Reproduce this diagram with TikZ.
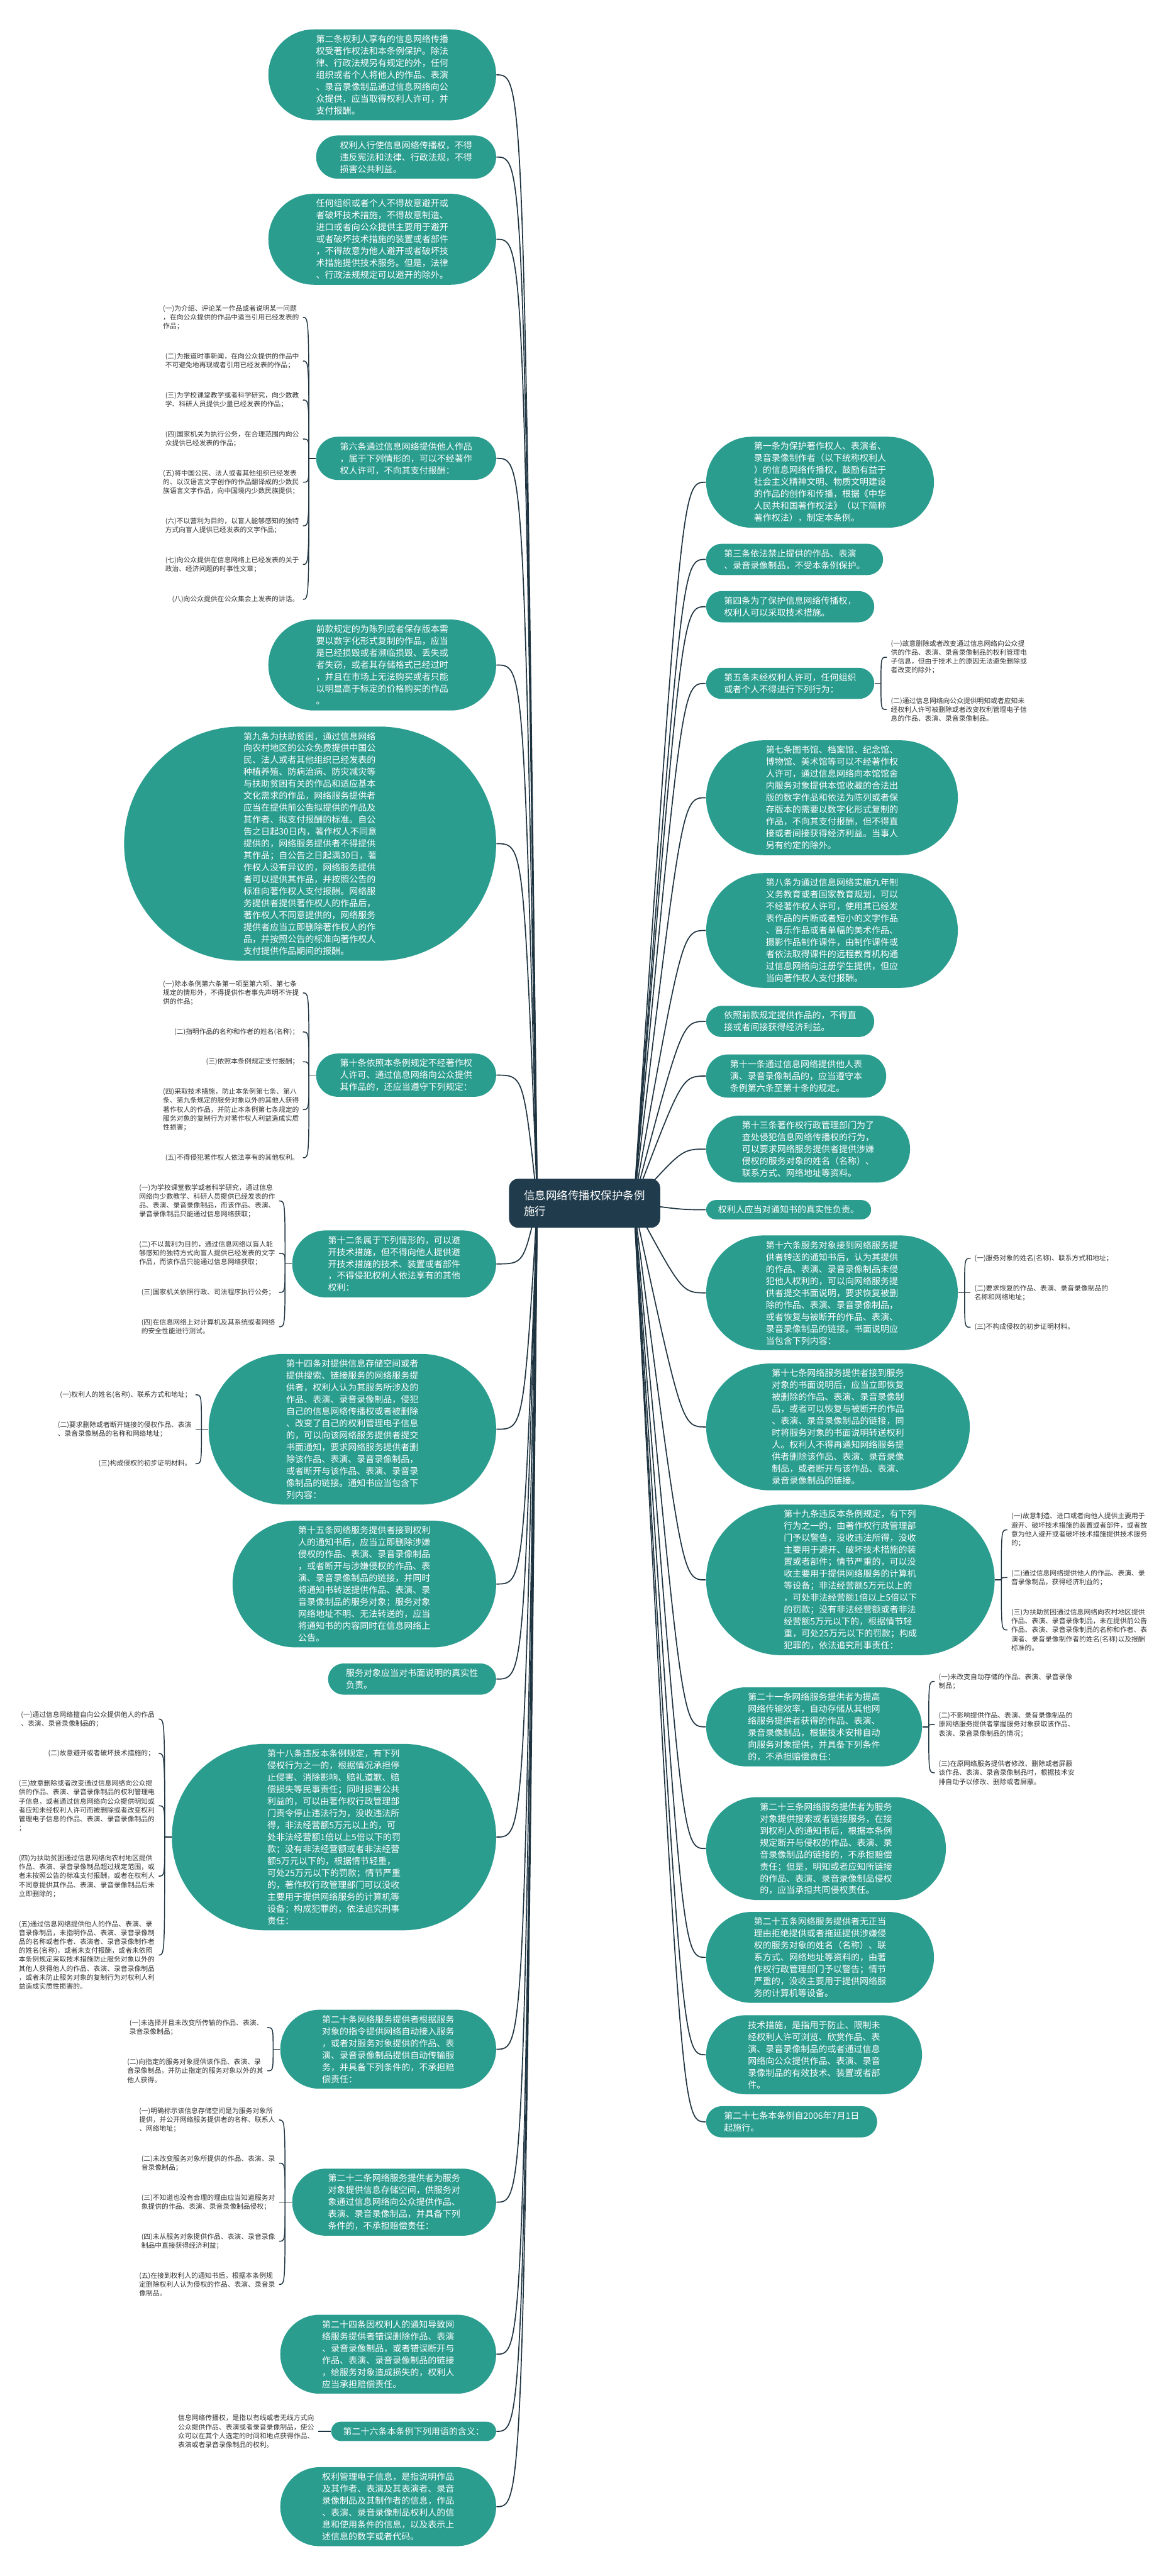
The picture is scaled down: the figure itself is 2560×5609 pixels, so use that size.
\documentclass[tikz,border=0pt]{standalone}
\usepackage{fontspec}
\setmainfont{Noto Sans CJK SC}
\usetikzlibrary{backgrounds}
\definecolor{tealc}{HTML}{2A9D8F}
\definecolor{rootc}{HTML}{203B4C}
\definecolor{linec}{HTML}{1E3340}
\definecolor{leafc}{HTML}{333333}
\tikzset{
  mainnode/.style={fill=tealc, text=white, align=left, inner ysep=0pt, font=\fontsize{5.76pt}{7.8pt}\selectfont},
  leafnode/.style={text=leafc, align=left, inner sep=0pt, font=\fontsize{4.44pt}{5.82pt}\selectfont},
  conn/.style={draw=linec, line width=0.7pt},
  bracel/.style={draw=linec, line width=0.6pt}
}
\newcommand\mL[4]{%
  \pgfmathsetmacro\myH{26*#3+16}%
  \pgfmathsetmacro\myP{0.5*\myH+5}%
  \node[mainnode, anchor=east, minimum height=\myH*0.3pt, inner xsep=\myP*0.3pt, rounded corners=\myH*0.15pt] (#1) at (1081,#2) {#4};}
\newcommand\mR[4]{%
  \pgfmathsetmacro\myH{26*#3+16}%
  \pgfmathsetmacro\myP{0.5*\myH+5}%
  \node[mainnode, anchor=west, minimum height=\myH*0.3pt, inner xsep=\myP*0.3pt, rounded corners=\myH*0.15pt] (#1) at (1537,#2) {#4};}
\newcommand\jL[1]{\coordinate (#1j) at ([xshift=-4.5pt]#1.west); \draw[bracel] (#1.west) -- (#1j);}
\newcommand\jR[1]{\coordinate (#1j) at ([xshift=4.2pt]#1.east); \draw[bracel] (#1.east) -- (#1j);}
\newcommand\lfL[4]{%
  \coordinate (tmp) at (0,#3);
  \node[leafnode, anchor=east, xshift=-6.3pt] (#1) at (#2j |- tmp) {#4};
  \draw[bracel] (#2j) .. controls (#2j |- #1.east) .. ([xshift=2.4pt]#1.east);}
\newcommand\lfR[4]{%
  \coordinate (tmp) at (0,#3);
  \node[leafnode, anchor=west, xshift=6.3pt] (#1) at (#2j |- tmp) {#4};
  \draw[bracel] (#2j) .. controls (#2j |- #1.west) .. ([xshift=-2.4pt]#1.west);}
\begin{document}
\begin{tikzpicture}[x=0.3pt,y=-0.3pt]
\useasboundingbox (0,0) rectangle (2560,5609);

% root
\node[fill=rootc, text=white, align=left, rounded corners=6pt, minimum width=98.7pt, minimum height=32pt, inner sep=0pt, font=\fontsize{7.2pt}{10.2pt}\selectfont] (root) at (1273,2620) {信息网络传播权保护条例\\施行};
\coordinate (sl) at (1170,2620);
\coordinate (sr) at (1380,2620);
\coordinate (cl) at (1140,0);
\coordinate (cr) at (1485,0);

% ---------- left ----------
\mL{L1}{163}{7}{第二条权利人享有的信息网络传播\\权受著作权法和本条例保护。除法\\律、行政法规另有规定的外，任何\\组织或者个人将他人的作品、表演\\、录音录像制品通过信息网络向公\\众提供，应当取得权利人许可，并\\支付报酬。}
\mL{L2}{342}{3}{权利人行使信息网络传播权，不得\\违反宪法和法律、行政法规，不得\\损害公共利益。}
\mL{L3}{521}{7}{任何组织或者个人不得故意避开或\\者破坏技术措施，不得故意制造、\\进口或者向公众提供主要用于避开\\或者破坏技术措施的装置或者部件\\，不得故意为他人避开或者破坏技\\术措施提供技术服务。但是，法律\\、行政法规规定可以避开的除外。}
\mL{L4}{998}{3}{第六条通过信息网络提供他人作品\\，属于下列情形的，可以不经著作\\权人许可，不向其支付报酬：}
\mL{L5}{1448}{7}{前款规定的为陈列或者保存版本需\\要以数字化形式复制的作品，应当\\是已经损毁或者濒临损毁、丢失或\\者失窃，或者其存储格式已经过时\\，并且在市场上无法购买或者只能\\以明显高于标定的价格购买的作品\\。}
\mL{L6}{1837}{19}{第九条为扶助贫困，通过信息网络\\向农村地区的公众免费提供中国公\\民、法人或者其他组织已经发表的\\种植养殖、防病治病、防灾减灾等\\与扶助贫困有关的作品和适应基本\\文化需求的作品，网络服务提供者\\应当在提供前公告拟提供的作品及\\其作者、拟支付报酬的标准。自公\\告之日起30日内，著作权人不同意\\提供的，网络服务提供者不得提供\\其作品；自公告之日起满30日，著\\作权人没有异议的，网络服务提供\\者可以提供其作品，并按照公告的\\标准向著作权人支付报酬。网络服\\务提供者提供著作权人的作品后，\\著作权人不同意提供的，网络服务\\提供者应当立即删除著作权人的作\\品，并按照公告的标准向著作权人\\支付提供作品期间的报酬。}
\mL{L7}{2341}{3}{第十条依照本条例规定不经著作权\\人许可、通过信息网络向公众提供\\其作品的，还应当遵守下列规定：}
\mL{L8}{2752}{5}{第十二条属于下列情形的，可以避\\开技术措施，但不得向他人提供避\\开技术措施的技术、装置或者部件\\，不得侵犯权利人依法享有的其他\\权利：}
\mL{L9}{3112}{12}{第十四条对提供信息存储空间或者\\提供搜索、链接服务的网络服务提\\供者，权利人认为其服务所涉及的\\作品、表演、录音录像制品，侵犯\\自己的信息网络传播权或者被删除\\、改变了自己的权利管理电子信息\\的，可以向该网络服务提供者提交\\书面通知，要求网络服务提供者删\\除该作品、表演、录音录像制品，\\或者断开与该作品、表演、录音录\\像制品的链接。通知书应当包含下\\列内容：}
\mL{L10}{3449}{10}{第十五条网络服务提供者接到权利\\人的通知书后，应当立即删除涉嫌\\侵权的作品、表演、录音录像制品\\，或者断开与涉嫌侵权的作品、表\\演、录音录像制品的链接，并同时\\将通知书转送提供作品、表演、录\\音录像制品的服务对象；服务对象\\网络地址不明、无法转送的，应当\\将通知书的内容同时在信息网络上\\公告。}
\mL{L11}{3656}{2}{服务对象应当对书面说明的真实性\\负责。}
\mL{L12}{4000}{15}{第十八条违反本条例规定，有下列\\侵权行为之一的，根据情况承担停\\止侵害、消除影响、赔礼道歉、赔\\偿损失等民事责任；同时损害公共\\利益的，可以由著作权行政管理部\\门责令停止违法行为，没收违法所\\得，非法经营额5万元以上的，可\\处非法经营额1倍以上5倍以下的罚\\款；没有非法经营额或者非法经营\\额5万元以下的，根据情节轻重，\\可处25万元以下的罚款；情节严重\\的，著作权行政管理部门可以没收\\主要用于提供网络服务的计算机等\\设备；构成犯罪的，依法追究刑事\\责任：}
\mL{L13}{4462}{6}{第二十条网络服务提供者根据服务\\对象的指令提供网络自动接入服务\\，或者对服务对象提供的作品、表\\演、录音录像制品提供自动传输服\\务，并具备下列条件的，不承担赔\\偿责任：}
\mL{L14}{4795}{5}{第二十二条网络服务提供者为服务\\对象提供信息存储空间，供服务对\\象通过信息网络向公众提供作品、\\表演、录音录像制品，并具备下列\\条件的，不承担赔偿责任：}
\mL{L15}{5126}{6}{第二十四条因权利人的通知导致网\\络服务提供者错误删除作品、表演\\、录音录像制品，或者错误断开与\\作品、表演、录音录像制品的链接\\，给服务对象造成损失的，权利人\\应当承担赔偿责任。}
\mL{L16}{5294}{1}{第二十六条本条例下列用语的含义：}
\mL{L17}{5458}{6}{权利管理电子信息，是指说明作品\\及其作者、表演及其表演者、录音\\录像制品及其制作者的信息，作品\\、表演、录音录像制品权利人的信\\息和使用条件的信息，以及表示上\\述信息的数字或者代码。}

% ---------- right ----------
\mR{R1}{1050}{7}{第一条为保护著作权人、表演者、\\录音录像制作者（以下统称权利人\\）的信息网络传播权，鼓励有益于\\社会主义精神文明、物质文明建设\\的作品的创作和传播，根据《中华\\人民共和国著作权法》（以下简称\\著作权法），制定本条例。}
\mR{R2}{1218}{2}{第三条依法禁止提供的作品、表演\\、录音录像制品，不受本条例保护。}
\mR{R3}{1321}{2}{第四条为了保护信息网络传播权，\\权利人可以采取技术措施。}
\mR{R4}{1488}{2}{第五条未经权利人许可，任何组织\\或者个人不得进行下列行为：}
\mR{R5}{1737}{9}{第七条图书馆、档案馆、纪念馆、\\博物馆、美术馆等可以不经著作权\\人许可，通过信息网络向本馆馆舍\\内服务对象提供本馆收藏的合法出\\版的数字作品和依法为陈列或者保\\存版本的需要以数字化形式复制的\\作品，不向其支付报酬，但不得直\\接或者间接获得经济利益。当事人\\另有约定的除外。}
\mR{R6}{2026}{9}{第八条为通过信息网络实施九年制\\义务教育或者国家教育规划，可以\\不经著作权人许可，使用其已经发\\表作品的片断或者短小的文字作品\\、音乐作品或者单幅的美术作品、\\摄影作品制作课件，由制作课件或\\者依法取得课件的远程教育机构通\\过信息网络向注册学生提供，但应\\当向著作权人支付报酬。}
\mR{R7}{2224}{2}{依照前款规定提供作品的，不得直\\接或者间接获得经济利益。}
\mR{R8}{2343}{3}{第十一条通过信息网络提供他人表\\演、录音录像制品的，应当遵守本\\条例第六条至第十条的规定。}
\mR{R9}{2502}{5}{第十三条著作权行政管理部门为了\\查处侵犯信息网络传播权的行为，\\可以要求网络服务提供者提供涉嫌\\侵权的服务对象的姓名（名称）、\\联系方式、网络地址等资料。}
\mR{R10}{2634}{1}{权利人应当对通知书的真实性负责。}
\mR{R11}{2815}{9}{第十六条服务对象接到网络服务提\\供者转送的通知书后，认为其提供\\的作品、表演、录音录像制品未侵\\犯他人权利的，可以向网络服务提\\供者提交书面说明，要求恢复被删\\除的作品、表演、录音录像制品，\\或者恢复与被断开的作品、表演、\\录音录像制品的链接。书面说明应\\当包含下列内容：}
\mR{R12}{3107}{10}{第十七条网络服务提供者接到服务\\对象的书面说明后，应当立即恢复\\被删除的作品、表演、录音录像制\\品，或者可以恢复与被断开的作品\\、表演、录音录像制品的链接，同\\时将服务对象的书面说明转送权利\\人。权利人不得再通知网络服务提\\供者删除该作品、表演、录音录像\\制品，或者断开与该作品、表演、\\录音录像制品的链接。}
\mR{R13}{3440}{12}{第十九条违反本条例规定，有下列\\行为之一的，由著作权行政管理部\\门予以警告，没收违法所得，没收\\主要用于避开、破坏技术措施的装\\置或者部件；情节严重的，可以没\\收主要用于提供网络服务的计算机\\等设备；非法经营额5万元以上的\\，可处非法经营额1倍以上5倍以下\\的罚款；没有非法经营额或者非法\\经营额5万元以下的，根据情节轻\\重，可处25万元以下的罚款；构成\\犯罪的，依法追究刑事责任：}
\mR{R14}{3760}{6}{第二十一条网络服务提供者为提高\\网络传输效率，自动存储从其他网\\络服务提供者获得的作品、表演、\\录音录像制品，根据技术安排自动\\向服务对象提供，并具备下列条件\\的，不承担赔偿责任：}
\mR{R15}{4025}{8}{第二十三条网络服务提供者为服务\\对象提供搜索或者链接服务，在接\\到权利人的通知书后，根据本条例\\规定断开与侵权的作品、表演、录\\音录像制品的链接的，不承担赔偿\\责任；但是，明知或者应知所链接\\的作品、表演、录音录像制品侵权\\的，应当承担共同侵权责任。}
\mR{R16}{4262}{7}{第二十五条网络服务提供者无正当\\理由拒绝提供或者拖延提供涉嫌侵\\权的服务对象的姓名（名称）、联\\系方式、网络地址等资料的，由著\\作权行政管理部门予以警告；情节\\严重的，没收主要用于提供网络服\\务的计算机等设备。}
\mR{R17}{4474}{6}{技术措施，是指用于防止、限制未\\经权利人许可浏览、欣赏作品、表\\演、录音录像制品的或者通过信息\\网络向公众提供作品、表演、录音\\录像制品的有效技术、装置或者部\\件。}
\mR{R18}{4620}{2}{第二十七条本条例自2006年7月1日\\起施行。}

% ---------- leaves left ----------
\jL{L4}
\lfL{a1}{L4}{691}{(一)为介绍、评论某一作品或者说明某一问题\\，在向公众提供的作品中适当引用已经发表的\\作品；}
\lfL{a2}{L4}{786}{(二)为报道时事新闻，在向公众提供的作品中\\不可避免地再现或者引用已经发表的作品；}
\lfL{a3}{L4}{871}{(三)为学校课堂教学或者科学研究，向少数教\\学、科研人员提供少量已经发表的作品；}
\lfL{a4}{L4}{956}{(四)国家机关为执行公务，在合理范围内向公\\众提供已经发表的作品；}
\lfL{a5}{L4}{1050}{(五)将中国公民、法人或者其他组织已经发表\\的、以汉语言文字创作的作品翻译成的少数民\\族语言文字作品，向中国境内少数民族提供；}
\lfL{a6}{L4}{1145}{(六)不以营利为目的，以盲人能够感知的独特\\方式向盲人提供已经发表的文字作品；}
\lfL{a7}{L4}{1229}{(七)向公众提供在信息网络上已经发表的关于\\政治、经济问题的时事性文章；}
\lfL{a8}{L4}{1305}{(八)向公众提供在公众集会上发表的讲话。}

\jL{L7}
\lfL{b1}{L7}{2162}{(一)除本条例第六条第一项至第六项、第七条\\规定的情形外，不得提供作者事先声明不许提\\供的作品；}
\lfL{b2}{L7}{2247}{(二)指明作品的名称和作者的姓名(名称)；}
\lfL{b3}{L7}{2312}{(三)依照本条例规定支付报酬；}
\lfL{b4}{L7}{2416}{(四)采取技术措施，防止本条例第七条、第八\\条、第九条规定的服务对象以外的其他人获得\\著作权人的作品，并防止本条例第七条规定的\\服务对象的复制行为对著作权人利益造成实质\\性损害；}
\lfL{b5}{L7}{2521}{(五)不得侵犯著作权人依法享有的其他权利。}

\jL{L8}
\lfL{c1}{L8}{2615}{(一)为学校课堂教学或者科学研究，通过信息\\网络向少数教学、科研人员提供已经发表的作\\品、表演、录音录像制品，而该作品、表演、\\录音录像制品只能通过信息网络获取；}
\lfL{c2}{L8}{2729}{(二)不以营利为目的，通过信息网络以盲人能\\够感知的独特方式向盲人提供已经发表的文字\\作品，而该作品只能通过信息网络获取；}
\lfL{c3}{L8}{2814}{(三)国家机关依照行政、司法程序执行公务；}
\lfL{c4}{L8}{2889}{(四)在信息网络上对计算机及其系统或者网络\\的安全性能进行测试。}

\jL{L9}
\lfL{d1}{L9}{3037}{(一)权利人的姓名(名称)、联系方式和地址；}
\lfL{d2}{L9}{3112}{(二)要求删除或者断开链接的侵权作品、表演\\、录音录像制品的名称和网络地址；}
\lfL{d3}{L9}{3187}{(三)构成侵权的初步证明材料。}

\jL{L12}
\lfL{e1}{L12}{3743}{(一)通过信息网络擅自向公众提供他人的作品\\、表演、录音录像制品的；}
\lfL{e2}{L12}{3818}{(二)故意避开或者破坏技术措施的；}
\lfL{e3}{L12}{3932}{(三)故意删除或者改变通过信息网络向公众提\\供的作品、表演、录音录像制品的权利管理电\\子信息，或者通过信息网络向公众提供明知或\\者应知未经权利人许可而被删除或者改变权利\\管理电子信息的作品、表演、录音录像制品的\\；}
\lfL{e4}{L12}{4085}{(四)为扶助贫困通过信息网络向农村地区提供\\作品、表演、录音录像制品超过规定范围，或\\者未按照公告的标准支付报酬，或者在权利人\\不同意提供其作品、表演、录音录像制品后未\\立即删除的；}
\lfL{e5}{L12}{4257}{(五)通过信息网络提供他人的作品、表演、录\\音录像制品，未指明作品、表演、录音录像制\\品的名称或者作者、表演者、录音录像制作者\\的姓名(名称)，或者未支付报酬，或者未依照\\本条例规定采取技术措施防止服务对象以外的\\其他人获得他人的作品、表演、录音录像制品\\，或者未防止服务对象的复制行为对权利人利\\益造成实质性损害的。}

\jL{L13}
\lfL{f1}{L13}{4415}{(一)未选择并且未改变所传输的作品、表演、\\录音录像制品；}
\lfL{f2}{L13}{4509}{(二)向指定的服务对象提供该作品、表演、录\\音录像制品，并防止指定的服务对象以外的其\\他人获得。}

\jL{L14}
\lfL{g1}{L14}{4616}{(一)明确标示该信息存储空间是为服务对象所\\提供，并公开网络服务提供者的名称、联系人\\、网络地址；}
\lfL{g2}{L14}{4710}{(二)未改变服务对象所提供的作品、表演、录\\音录像制品；}
\lfL{g3}{L14}{4795}{(三)不知道也没有合理的理由应当知道服务对\\象提供的作品、表演、录音录像制品侵权；}
\lfL{g4}{L14}{4880}{(四)未从服务对象提供作品、表演、录音录像\\制品中直接获得经济利益；}
\lfL{g5}{L14}{4974}{(五)在接到权利人的通知书后，根据本条例规\\定删除权利人认为侵权的作品、表演、录音录\\像制品。}

\jL{L16}
\lfL{h1}{L16}{5294}{信息网络传播权，是指以有线或者无线方式向\\公众提供作品、表演或者录音录像制品，使公\\众可以在其个人选定的时间和地点获得作品、\\表演或者录音录像制品的权利。}

% ---------- leaves right ----------
\jR{R4}
\lfR{i1}{R4}{1431}{(一)故意删除或者改变通过信息网络向公众提\\供的作品、表演、录音录像制品的权利管理电\\子信息，但由于技术上的原因无法避免删除或\\者改变的除外；}
\lfR{i2}{R4}{1545}{(二)通过信息网络向公众提供明知或者应知未\\经权利人许可被删除或者改变权利管理电子信\\息的作品、表演、录音录像制品。}

\jR{R11}
\lfR{k1}{R11}{2740}{(一)服务对象的姓名(名称)、联系方式和地址；}
\lfR{k2}{R11}{2815}{(二)要求恢复的作品、表演、录音录像制品的\\名称和网络地址；}
\lfR{k3}{R11}{2890}{(三)不构成侵权的初步证明材料。}

\jR{R13}
\lfR{m1}{R13}{3331}{(一)故意制造、进口或者向他人提供主要用于\\避开、破坏技术措施的装置或者部件，或者故\\意为他人避开或者破坏技术措施提供技术服务\\的；}
\lfR{m2}{R13}{3435}{(二)通过信息网络提供他人的作品、表演、录\\音录像制品，获得经济利益的；}
\lfR{m3}{R13}{3549}{(三)为扶助贫困通过信息网络向农村地区提供\\作品、表演、录音录像制品，未在提供前公告\\作品、表演、录音录像制品的名称和作者、表\\演者、录音录像制作者的姓名(名称)以及报酬\\标准的。}

\jR{R14}
\lfR{n1}{R14}{3661}{(一)未改变自动存储的作品、表演、录音录像\\制品；}
\lfR{n2}{R14}{3755}{(二)不影响提供作品、表演、录音录像制品的\\原网络服务提供者掌握服务对象获取该作品、\\表演、录音录像制品的情况；}
\lfR{n3}{R14}{3860}{(三)在原网络服务提供者修改、删除或者屏蔽\\该作品、表演、录音录像制品时，根据技术安\\排自动予以修改、删除或者屏蔽。}

% ---------- connectors ----------
\begin{scope}[on background layer]
\fill[white] (0,0) rectangle (2560,5609);
\foreach \n in {L1,L2,L3,L4,L5,L6,L7,L8,L9,L10,L11,L12,L13,L14,L15,L16,L17}
  \draw[conn] (sl) .. controls (cl |- \n.east) .. (\n.east);
\foreach \n in {R1,R2,R3,R4,R5,R6,R7,R8,R9,R10,R11,R12,R13,R14,R15,R16,R17,R18}
  \draw[conn] (sr) .. controls (cr |- \n.west) .. (\n.west);
\end{scope}
\end{tikzpicture}
\end{document}
